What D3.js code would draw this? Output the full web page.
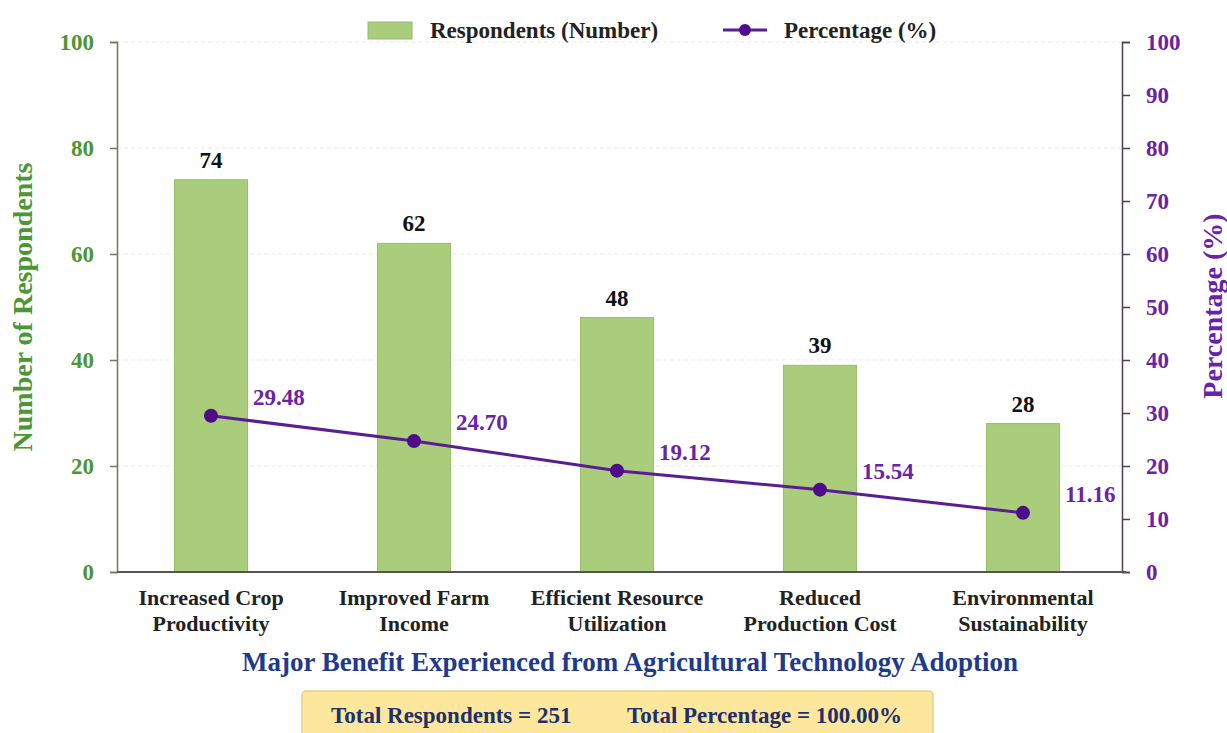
<!DOCTYPE html>
<html>
<head>
<meta charset="utf-8">
<script src="https://cdn.jsdelivr.net/npm/d3@7"></script>
<style>
  html, body { margin: 0; padding: 0; background: #ffffff; }
  svg { display: block; font-family: "Liberation Serif", "Times New Roman", serif; font-weight: bold; }
</style>
</head>
<body>
<svg id="chart" width="1227" height="733"></svg>
<script>
// Benefit categories (two-line labels)
const categories = [
  ["Increased Crop", "Productivity"],
  ["Improved Farm", "Income"],
  ["Efficient Resource", "Utilization"],
  ["Reduced", "Production Cost"],
  ["Environmental", "Sustainability"]
];
const respondents = [74, 62, 48, 39, 28];
const percentages = [29.48, 24.70, 19.12, 15.54, 11.16];
const leftTicks = [0, 20, 40, 60, 80, 100];
const rightTicks = [0, 10, 20, 30, 40, 50, 60, 70, 80, 90, 100];
const totalRespondents = 251;
const totalPercentage = "100.00";

const svg = d3.select("#chart");
const keys = categories.map(c => c.join(" "));

const plotLeft = 117, plotRight = 1122, plotTop = 42, plotBottom = 572;

const x = d3.scaleBand().domain(keys).range([109.5, 1124.5]).paddingInner(0.64).paddingOuter(0.32);
const yL = d3.scaleLinear().domain([0, 100]).range([plotBottom, plotTop]);
const yR = d3.scaleLinear().domain([0, 100]).range([plotBottom, plotTop]);

const green = "#4c9634";
const purple = "#6a22a8";

// light dashed gridlines
svg.append("g").selectAll("line").data(leftTicks.filter(d => d > 0)).join("line")
  .attr("x1", plotLeft).attr("x2", plotRight)
  .attr("y1", d => yL(d)).attr("y2", d => yL(d))
  .attr("stroke", "#ebebeb").attr("stroke-width", 1).attr("stroke-dasharray", "4,3");

// bars
svg.append("g").selectAll("rect").data(respondents).join("rect")
  .attr("x", (d, i) => x(keys[i]))
  .attr("y", d => yL(d))
  .attr("width", x.bandwidth())
  .attr("height", d => yL(0) - yL(d))
  .attr("fill", "#a9cd7b").attr("stroke", "#98bd68").attr("stroke-width", 1);

// bar value labels
svg.append("g").selectAll("text").data(respondents).join("text")
  .attr("x", (d, i) => x(keys[i]) + x.bandwidth() / 2)
  .attr("y", d => yL(d) - 12)
  .attr("text-anchor", "middle").attr("font-size", 23).attr("fill", "#111")
  .text(d => d);

// left axis
const axL = svg.append("g").attr("transform", `translate(${plotLeft},0)`)
  .call(d3.axisLeft(yL).tickValues(leftTicks).tickSize(7).tickPadding(16));
axL.select(".domain").attr("stroke", "#6d7a5c").attr("stroke-width", 1.5);
axL.selectAll(".tick line").attr("stroke", "#6d7a5c").attr("stroke-width", 1.5);
axL.selectAll(".tick text").attr("fill", green).attr("font-size", 23)
  .attr("font-family", "Liberation Serif, serif").attr("font-weight", "bold");

// right axis
const axR = svg.append("g").attr("transform", `translate(${plotRight},0)`)
  .call(d3.axisRight(yR).tickValues(rightTicks).tickSize(8).tickPadding(16));
axR.select(".domain").attr("stroke", "#4b3d5c").attr("stroke-width", 1.5);
axR.selectAll(".tick line").attr("stroke", "#4b3d5c").attr("stroke-width", 1.5);
axR.selectAll(".tick text").attr("fill", purple).attr("font-size", 23)
  .attr("font-family", "Liberation Serif, serif").attr("font-weight", "bold");

// bottom axis line
svg.append("line").attr("x1", plotLeft).attr("x2", plotRight + 4)
  .attr("y1", plotBottom).attr("y2", plotBottom)
  .attr("stroke", "#555").attr("stroke-width", 2);

// category labels
const catG = svg.append("g").selectAll("text").data(categories).join("text")
  .attr("text-anchor", "middle").attr("font-size", 22).attr("fill", "#222")
  .attr("transform", (d, i) => `translate(${x(keys[i]) + x.bandwidth() / 2},605)`);
catG.selectAll("tspan").data(d => d).join("tspan")
  .attr("x", 0).attr("dy", (d, j) => j === 0 ? 0 : 26).text(d => d);

// percentage line
const cx = i => x(keys[i]) + x.bandwidth() / 2;
svg.append("path").datum(percentages)
  .attr("d", d3.line().x((d, i) => cx(i)).y(d => yR(d)))
  .attr("fill", "none").attr("stroke", "#5a1d94").attr("stroke-width", 3);
svg.append("g").selectAll("circle").data(percentages).join("circle")
  .attr("cx", (d, i) => cx(i)).attr("cy", d => yR(d)).attr("r", 7)
  .attr("fill", "#4e0b8a");
svg.append("g").selectAll("text").data(percentages).join("text")
  .attr("x", (d, i) => cx(i) + 42).attr("y", d => yR(d) - 11)
  .attr("font-size", 23).attr("fill", purple)
  .text(d => d.toFixed(2));

// axis titles
svg.append("text").attr("transform", "translate(32,307) rotate(-90)")
  .attr("text-anchor", "middle").attr("font-size", 28).attr("fill", green)
  .text("Number of Respondents");
svg.append("text").attr("transform", "translate(1222,306) rotate(-90)")
  .attr("text-anchor", "middle").attr("font-size", 28).attr("fill", purple)
  .text("Percentage (%)");
svg.append("text").attr("x", 630).attr("y", 671)
  .attr("text-anchor", "middle").attr("font-size", 27).attr("fill", "#1f3a8c")
  .text("Major Benefit Experienced from Agricultural Technology Adoption");

// legend
const lg = svg.append("g");
lg.append("rect").attr("x", 368).attr("y", 22).attr("width", 44).attr("height", 17)
  .attr("fill", "#a9cd7b").attr("stroke", "#98bd68");
lg.append("text").attr("x", 430).attr("y", 38).attr("font-size", 23).attr("fill", "#222")
  .text("Respondents (Number)");
lg.append("line").attr("x1", 723).attr("x2", 767).attr("y1", 30).attr("y2", 30)
  .attr("stroke", "#5a1d94").attr("stroke-width", 3);
lg.append("circle").attr("cx", 745).attr("cy", 30).attr("r", 6).attr("fill", "#4e0b8a");
lg.append("text").attr("x", 784).attr("y", 38).attr("font-size", 23).attr("fill", "#222")
  .text("Percentage (%)");

// totals box
svg.append("rect").attr("x", 302).attr("y", 691).attr("width", 631).attr("height", 48).attr("rx", 4)
  .attr("fill", "#fde79c").attr("stroke", "#e8cf86").attr("stroke-width", 1.5);
svg.append("text").attr("x", 331).attr("y", 723).attr("font-size", 23).attr("fill", "#1f2f6a")
  .text(`Total Respondents = ${totalRespondents}`);
svg.append("text").attr("x", 627).attr("y", 723).attr("font-size", 23).attr("fill", "#1f2f6a")
  .text(`Total Percentage = ${totalPercentage}%`);
</script>
</body>
</html>
